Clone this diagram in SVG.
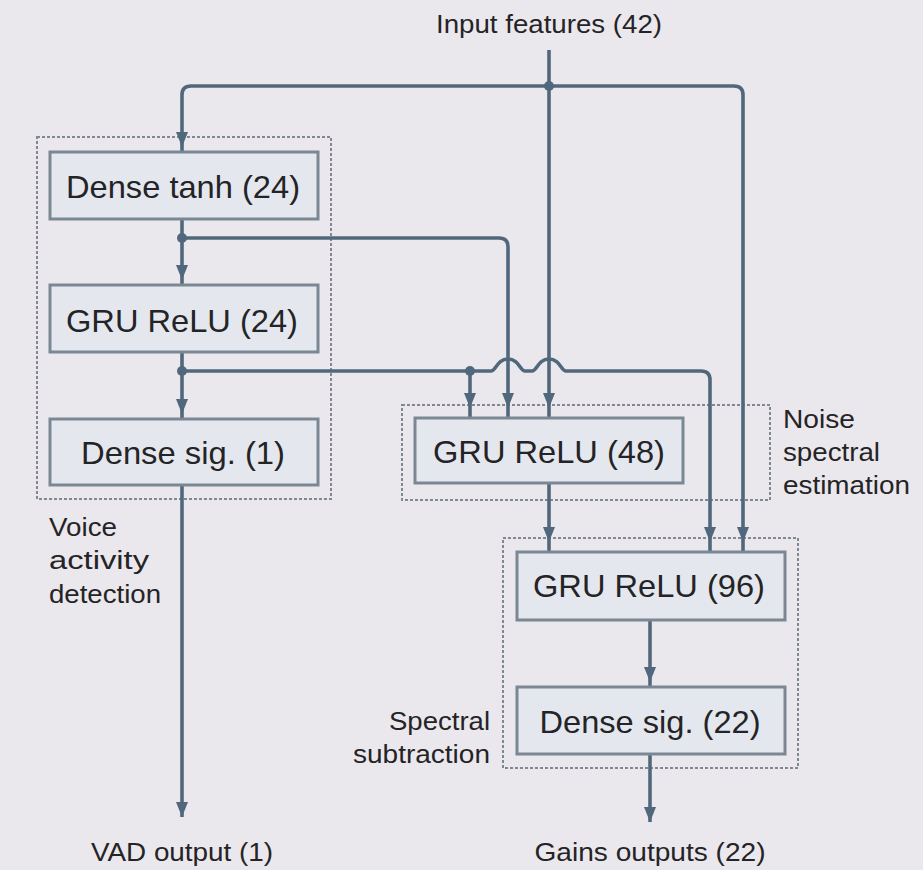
<svg xmlns="http://www.w3.org/2000/svg" width="923" height="870" viewBox="0 0 923 870">
<style>
.bg{fill:#ebe8ed}
.box{fill:#e4e8ee;stroke:#7b8793;stroke-width:3}
.grp{fill:none;stroke:#7f8993;stroke-width:2;stroke-dasharray:3 2}
.btx{font-family:"Liberation Sans",Arial,sans-serif;font-size:30.5px;fill:#242426;text-anchor:middle}
.lbl{font-family:"Liberation Sans",Arial,sans-serif;font-size:25px;fill:#242426}
.c{fill:none;stroke:#51687c;stroke-width:3.6}
.dot{fill:#51687c}
</style>
<defs>
<marker id="ah" markerUnits="userSpaceOnUse" viewBox="0 0 15 12" markerWidth="15" markerHeight="12" refX="15" refY="6" orient="auto"><path d="M0,0 L15,6 L0,12 z" fill="#51687c"/></marker>
<marker id="ah5" markerUnits="userSpaceOnUse" viewBox="0 0 15 12" markerWidth="15" markerHeight="12" refX="20" refY="6" orient="auto" overflow="visible"><path d="M0,0 L15,6 L0,12 z" fill="#51687c"/></marker>
<marker id="ah10" markerUnits="userSpaceOnUse" viewBox="0 0 15 12" markerWidth="15" markerHeight="12" refX="25" refY="6" orient="auto" overflow="visible"><path d="M0,0 L15,6 L0,12 z" fill="#51687c"/></marker>
</defs>
<rect class="bg" x="0" y="0" width="923" height="870"/>

<g id="group-vad">
<rect class="grp" x="37" y="137" width="294" height="362"/>
<text class="lbl" x="49" y="536" textLength="68" lengthAdjust="spacingAndGlyphs">Voice</text>
<text class="lbl" x="49" y="569" textLength="100" lengthAdjust="spacingAndGlyphs">activity</text>
<text class="lbl" x="49" y="603" textLength="112" lengthAdjust="spacingAndGlyphs">detection</text>
</g>
<g id="group-nse">
<rect class="grp" x="402" y="405" width="368" height="95"/>
<text class="lbl" x="783" y="428" textLength="72" lengthAdjust="spacingAndGlyphs">Noise</text>
<text class="lbl" x="783" y="461" textLength="97" lengthAdjust="spacingAndGlyphs">spectral</text>
<text class="lbl" x="783" y="494" textLength="127" lengthAdjust="spacingAndGlyphs">estimation</text>
</g>
<g id="group-ss">
<rect class="grp" x="503" y="538" width="295" height="230"/>
<text class="lbl" x="490" y="730" text-anchor="end" textLength="101" lengthAdjust="spacingAndGlyphs">Spectral</text>
<text class="lbl" x="490" y="763" text-anchor="end" textLength="137" lengthAdjust="spacingAndGlyphs">subtraction</text>
</g>

<g id="connectors">
<path class="c" d="M549,50 V418" marker-end="url(#ah10)"/>
<path class="c" d="M549,86 H191 Q182,86 182,95 V152" marker-end="url(#ah5)"/>
<path class="c" d="M549,86 H734 Q743,86 743,95 V552" marker-end="url(#ah10)"/>
<path class="c" d="M182,219 V285" marker-end="url(#ah5)"/>
<path class="c" d="M182,238 H499 Q508,238 508,247 V418" marker-end="url(#ah10)"/>
<path class="c" d="M182,352 V419" marker-end="url(#ah5)"/>
<path class="c" d="M182,371 H491 C496,371 497,359 508,359 C519,359 520,371 525,371 H532 C537,371 538,359 549,359 C560,359 561,371 566,371 H701 Q710,371 710,380 V552" marker-end="url(#ah10)"/>
<path class="c" d="M470,371 V418" marker-end="url(#ah10)"/>
<path class="c" d="M182,485 V817" marker-end="url(#ah)"/>
<path class="c" d="M549,483 V552" marker-end="url(#ah10)"/>
<path class="c" d="M650,620 V687" marker-end="url(#ah5)"/>
<path class="c" d="M650,754 V822" marker-end="url(#ah)"/>
<circle class="dot" cx="549" cy="86" r="5"/>
<circle class="dot" cx="182" cy="238" r="5"/>
<circle class="dot" cx="182" cy="371" r="5"/>
<circle class="dot" cx="470" cy="371" r="5"/>
</g>

<g id="input-label"><text class="lbl" x="549" y="33" text-anchor="middle" textLength="226" lengthAdjust="spacingAndGlyphs">Input features (42)</text></g>
<g id="dense-tanh"><rect class="box" x="50" y="152" width="268" height="67"/><text class="btx" x="183" y="198" textLength="234" lengthAdjust="spacingAndGlyphs">Dense tanh (24)</text></g>
<g id="gru-24"><rect class="box" x="50" y="285" width="268" height="67"/><text class="btx" x="182" y="332" textLength="232" lengthAdjust="spacingAndGlyphs">GRU ReLU (24)</text></g>
<g id="dense-sig-1"><rect class="box" x="50" y="419" width="268" height="66"/><text class="btx" x="183" y="464" textLength="204" lengthAdjust="spacingAndGlyphs">Dense sig. (1)</text></g>
<g id="gru-48"><rect class="box" x="415" y="418" width="268" height="65"/><text class="btx" x="549" y="463" textLength="232" lengthAdjust="spacingAndGlyphs">GRU ReLU (48)</text></g>
<g id="gru-96"><rect class="box" x="517" y="552" width="268" height="68"/><text class="btx" x="649" y="597" textLength="232" lengthAdjust="spacingAndGlyphs">GRU ReLU (96)</text></g>
<g id="dense-sig-22"><rect class="box" x="517" y="687" width="268" height="67"/><text class="btx" x="650" y="733" textLength="221" lengthAdjust="spacingAndGlyphs">Dense sig. (22)</text></g>
<g id="vad-output"><text class="lbl" x="182" y="861" text-anchor="middle" textLength="182" lengthAdjust="spacingAndGlyphs">VAD output (1)</text></g>
<g id="gains-output"><text class="lbl" x="650" y="861" text-anchor="middle" textLength="231" lengthAdjust="spacingAndGlyphs">Gains outputs (22)</text></g>
</svg>
